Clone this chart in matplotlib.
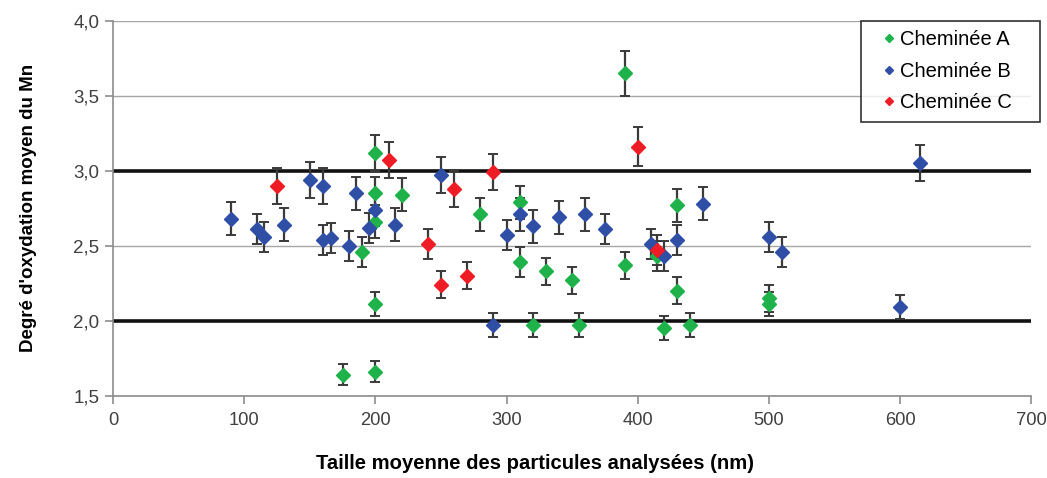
import matplotlib
matplotlib.use('Agg')
from matplotlib import pyplot as plt
from matplotlib.ticker import FuncFormatter

# Cheminée A (green)
a_x: list[float] = [175, 190, 200, 200, 200, 200, 200, 220, 280, 310, 310, 320, 330, 350, 355,
                    390, 390, 415, 420, 430, 430, 440, 500, 500]
a_y: list[float] = [1.64, 2.46, 3.12, 2.85, 2.66, 2.11, 1.66, 2.84, 2.71, 2.79, 2.39, 1.97, 2.33, 2.27, 1.97,
                    3.65, 2.37, 2.43, 1.95, 2.77, 2.20, 1.97, 2.15, 2.11]
a_err: list[float] = [0.07, 0.10, 0.12, 0.11, 0.11, 0.08, 0.07, 0.11, 0.11, 0.11, 0.10, 0.08, 0.09, 0.09, 0.08,
                      0.15, 0.09, 0.10, 0.08, 0.11, 0.09, 0.08, 0.09, 0.08]

# Cheminée B (blue)
b_x: list[float] = [90, 110, 115, 130, 150, 160, 160, 166, 180, 185, 195, 200, 215, 250, 290, 300,
                    310, 320, 340, 360, 375, 410, 420, 430, 450, 500, 510, 600, 615]
b_y: list[float] = [2.68, 2.61, 2.56, 2.64, 2.94, 2.90, 2.54, 2.55, 2.50, 2.85, 2.62, 2.74, 2.64, 2.97, 1.97, 2.57,
                    2.71, 2.63, 2.69, 2.71, 2.61, 2.51, 2.43, 2.54, 2.78, 2.56, 2.46, 2.09, 3.05]
b_err: list[float] = [0.11, 0.10, 0.10, 0.11, 0.12, 0.12, 0.10, 0.10, 0.10, 0.11, 0.10, 0.11, 0.11, 0.12, 0.08, 0.10,
                      0.11, 0.11, 0.11, 0.11, 0.10, 0.10, 0.10, 0.10, 0.11, 0.10, 0.10, 0.08, 0.12]

# Cheminée C (red)
c_x: list[float] = [125, 210, 240, 250, 260, 270, 290, 400, 415]
c_y: list[float] = [2.90, 3.07, 2.51, 2.24, 2.88, 2.30, 2.99, 3.16, 2.47]
c_err: list[float] = [0.12, 0.12, 0.10, 0.09, 0.12, 0.09, 0.12, 0.13, 0.10]

series = [
    ('Cheminée A', a_x, a_y, a_err, '#1fb24a'),
    ('Cheminée B', b_x, b_y, b_err, '#2f4ea6'),
    ('Cheminée C', c_x, c_y, c_err, '#ee1c24'),
]

plt.rcParams['font.family'] = ['Liberation Sans', 'DejaVu Sans']

fig = plt.figure(figsize=(10.47, 4.78), dpi=100)
ax = fig.add_axes((0.108, 0.172, 0.877, 0.784))

# Reference lines at 2 and 3, light grid elsewhere.
for level in [1.5, 2.5, 3.5, 4.0]:
    ax.axhline(level, color='#a6a6a6', linewidth=1, zorder=0)
for level in [2.0, 3.0]:
    ax.axhline(level, color='#111111', linewidth=2.6, zorder=1)

for name, xs, ys, errs, color in series:
    ax.errorbar(xs, ys, yerr=errs, fmt='none', ecolor='#3a3a3a', elinewidth=1.6,
                capsize=3.5, capthick=1.4, zorder=2)
    ax.plot(xs, ys, linestyle='none', marker='D', markersize=7.3, color=color,
            markeredgecolor=color, label=name, zorder=3)

ax.set_xlim(0, 700)
ax.set_ylim(1.5, 4.0)
ax.set_xticks(range(0, 701, 100))
ax.set_yticks([1.5, 2.0, 2.5, 3.0, 3.5, 4.0])
ax.yaxis.set_major_formatter(FuncFormatter(lambda v, _: f'{v:.1f}'.replace('.', ',')))

for side in ['top', 'right']:
    ax.spines[side].set_visible(False)
for side in ['left', 'bottom']:
    ax.spines[side].set_color('#8c8c8c')
    ax.spines[side].set_linewidth(1.2)

ax.tick_params(axis='both', colors='#8c8c8c', length=6, width=1.2, labelcolor='#404040')
ax.tick_params(axis='x', labelsize=13.2, pad=6)
ax.tick_params(axis='y', labelsize=13.5, pad=4)

ax.set_xlabel('Taille moyenne des particules analysées (nm)', fontsize=14.6, fontweight='bold')
ax.set_ylabel("Degré d'oxydation moyen du Mn", fontsize=13.5, fontweight='bold', labelpad=26)
ax.xaxis.set_label_coords(0.46, -0.155)

leg = ax.legend(loc='upper left', bbox_to_anchor=(0.814, 0.736, 0.196, 0.263), mode='expand',
                fontsize=14.5, frameon=True, fancybox=False, edgecolor='black',
                markerscale=0.6, handlelength=1.9, handletextpad=-0.4, labelspacing=0.62,
                borderpad=0.45, borderaxespad=0)
leg.get_frame().set_linewidth(1.2)

fig.savefig('out.png', dpi=100)
